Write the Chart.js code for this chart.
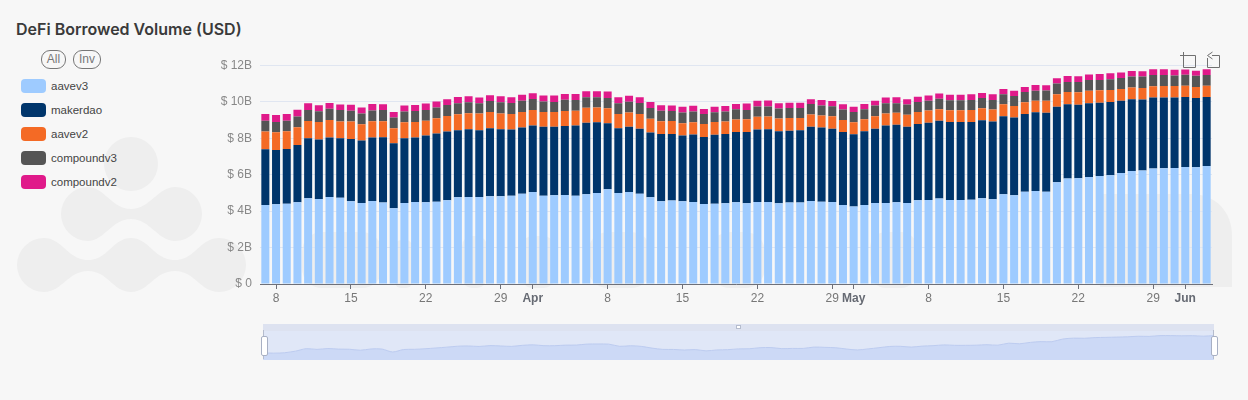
<!DOCTYPE html>
<html lang="en">

<head>
    <meta charset="UTF-8">
    <title>DeFi Borrowed Volume (USD)</title>
    <script src="https://cdn.jsdelivr.net/npm/chart.js"></script>
    <style>
        html, body { margin: 0; padding: 0; }
        body { width: 1248px; height: 400px; background: #f7f7f7; position: relative; overflow: hidden; font-family: "Liberation Sans", sans-serif; }
        h1 { position: absolute; left: 16px; top: 19px; margin: 0; font: 600 16px Inter, sans-serif; color: #3a3a3a; }
        .btn { position: absolute; top: 50px; height: 17px; line-height: 17px; border: 1px solid #777; border-radius: 9px; font-size: 12px; color: #777; text-align: center; }
        #legend { position: absolute; left: 21px; top: 79px; }
        #legend div { height: 24px; display: flex; align-items: flex-start; font-size: 11.5px; color: #444; }
        #legend i { width: 25px; height: 14px; border-radius: 4px; margin-right: 5px; }
        #legend span { line-height: 14px; }
        #watermark { position: absolute; left: 0; top: 0; }
        #mainWrap { position: absolute; left: 200px; top: 50px; width: 1020px; height: 264px; }
        #sliderBack { position: absolute; left: 263px; top: 324px; width: 951px; height: 36px; background: #e0e7f7; }
        #sliderTop { position: absolute; left: 263px; top: 324px; width: 951px; height: 7px; background: #dde2f0; }
        #sliderWrap { position: absolute; left: 263px; top: 331px; width: 951px; height: 29px; }
        canvas { display: block; }
        .handle { position: absolute; top: 336px; width: 5px; height: 18px; background: #fff; border: 1px solid #a8b0c4; border-radius: 2px; }
        .handleLine { position: absolute; top: 330px; width: 1px; height: 29px; background: #b5bccd; }
        #grip { position: absolute; left: 736px; top: 325px; width: 5px; height: 4px; background: #fff; border: 1px solid #b5bccd; box-sizing: border-box; }
    </style>
</head>

<body>
    <!-- background watermark -->
    <svg id="watermark" width="1248" height="400" fill="#eeeeee">
        <circle cx="131" cy="164" r="27"/>
        <path d="M88 187 C104 187 112 209 131 209 C150 209 158 187 175 187 A27 27 0 0 1 175 241 C158 241 150 219 131 219 C112 219 104 241 88 241 A27 27 0 0 1 88 187 Z"/>
        <path d="M44 238 C62 238 68 260 88 260 C108 260 113 238 131 238 C149 238 154 260 175 260 C195 260 200 238 219 238 A27 27 0 0 1 219 292 C200 292 195 271 175 271 C154 271 149 292 131 292 C113 292 108 271 88 271 C68 271 62 292 44 292 A27 27 0 0 1 44 238 Z"/>
        <rect x="302" y="232" width="80" height="56" rx="20"/>
        <rect x="395" y="240" width="17" height="48" rx="6"/>
        <rect x="462" y="236" width="25" height="52" rx="10"/>
        <rect x="521" y="236" width="34" height="52" rx="12"/>
        <rect x="588" y="232" width="63" height="56" rx="20"/>
        <rect x="710" y="232" width="55" height="56" rx="20"/>
        <rect x="870" y="232" width="47" height="56" rx="16"/>
        <path d="M1100 287 L1100 194 L1190 194 C1216 194 1232 212 1232 236 L1232 287 Z"/>
    </svg>

    <h1>DeFi Borrowed Volume (USD)</h1>
    <div class="btn" style="left:41px;width:23px">All</div>
    <div class="btn" style="left:73px;width:26px">Inv</div>
    <div id="legend"></div>

    <div id="mainWrap"><canvas id="mainChart" width="1020" height="264"></canvas></div>

    <!-- toolbox icons -->
    <svg style="position:absolute;left:1176px;top:50px" width="48" height="20" fill="none" stroke="#707070" stroke-width="1">
        <path d="M4 5.5 H11 M7.5 2 V17.5 H19.5 V5.5 H7.5"/>
        <path d="M31.5 17.5 H43.5 V5.5 H36 M31.5 17.5 V8 M36.5 2 L31.5 5.5 L36.5 9"/>
    </svg>

    <!-- range slider -->
    <div id="sliderBack"></div>
    <div id="sliderTop"></div>
    <div id="sliderWrap"><canvas id="sliderChart" width="951" height="29"></canvas></div>
    <div class="handleLine" style="left:263px"></div>
    <div class="handleLine" style="left:1213px"></div>
    <div class="handle" style="left:261px"></div>
    <div class="handle" style="left:1211px"></div>
    <div id="grip"></div>

    <script>
        const categories = [
            '03-07','03-08','03-09','03-10','03-11','03-12','03-13','03-14','03-15','03-16','03-17','03-18','03-19','03-20','03-21','03-22','03-23','03-24','03-25','03-26','03-27','03-28','03-29','03-30','03-31',
            '04-01','04-02','04-03','04-04','04-05','04-06','04-07','04-08','04-09','04-10','04-11','04-12','04-13','04-14','04-15','04-16','04-17','04-18','04-19','04-20','04-21','04-22','04-23','04-24','04-25','04-26','04-27','04-28','04-29','04-30',
            '05-01','05-02','05-03','05-04','05-05','05-06','05-07','05-08','05-09','05-10','05-11','05-12','05-13','05-14','05-15','05-16','05-17','05-18','05-19','05-20','05-21','05-22','05-23','05-24','05-25','05-26','05-27','05-28','05-29','05-30','05-31',
            '06-01','06-02','06-03'
        ];
        const tickDates = ['03-08','03-15','03-22','03-29','04-01','04-08','04-15','04-22','04-29','05-01','05-08','05-15','05-22','05-29','06-01'];
        const tickLabels = ['8','15','22','29','Apr','8','15','22','29','May','8','15','22','29','Jun'];
        const monthLabels = ['Apr', 'May', 'Jun'];

        // values in billions of USD
        const aavev3 = [4.34,4.38,4.41,4.49,4.71,4.67,4.78,4.73,4.54,4.45,4.56,4.47,4.16,4.45,4.51,4.49,4.52,4.60,4.76,4.78,4.78,4.82,4.82,4.84,4.95,5.05,4.84,4.87,4.89,4.85,4.93,5.00,5.20,5.00,5.05,4.95,4.76,4.54,4.58,4.54,4.51,4.40,4.41,4.43,4.49,4.43,4.51,4.51,4.43,4.47,4.47,4.56,4.52,4.51,4.34,4.25,4.34,4.45,4.45,4.49,4.45,4.60,4.62,4.69,4.62,4.62,4.63,4.71,4.65,4.93,4.87,5.07,5.11,5.07,5.59,5.79,5.81,5.88,5.93,5.97,6.10,6.21,6.23,6.34,6.36,6.37,6.43,6.41,6.48];
        const makerdao = [3.06,2.98,3.01,3.15,3.29,3.26,3.26,3.27,3.43,3.43,3.48,3.59,3.57,3.55,3.53,3.66,3.74,3.77,3.68,3.72,3.66,3.73,3.68,3.64,3.64,3.65,3.80,3.77,3.79,3.85,3.93,3.88,3.63,3.55,3.58,3.58,3.56,3.70,3.66,3.61,3.70,3.68,3.78,3.81,3.86,3.92,3.97,3.99,3.96,3.95,3.97,4.07,4.07,4.02,4.01,3.97,4.05,4.08,4.25,4.25,4.18,4.19,4.23,4.27,4.28,4.28,4.27,4.28,4.27,4.28,4.27,4.27,4.32,4.33,4.15,4.08,4.04,4.05,4.03,4.03,3.97,3.94,3.90,3.90,3.88,3.87,3.84,3.81,3.79];
        const aavev2 = [.97,.97,.97,.97,.95,.97,.97,.93,.95,.90,.90,.88,.82,.88,.86,.82,.84,.86,.88,.88,.92,.90,.86,.86,.86,.86,.81,.81,.82,.82,.82,.81,.82,.79,.79,.81,.75,.70,.71,.68,.68,.71,.71,.68,.68,.70,.70,.70,.70,.70,.68,.68,.66,.68,.66,.66,.66,.68,.66,.66,.66,.66,.68,.64,.64,.64,.66,.66,.66,.66,.64,.64,.64,.66,.68,.68,.68,.68,.68,.66,.64,.64,.64,.62,.64,.64,.62,.60,.62];
        const compoundv3 = [.60,.57,.57,.59,.60,.59,.62,.62,.59,.59,.59,.62,.59,.59,.60,.59,.59,.60,.60,.60,.57,.60,.62,.60,.62,.60,.57,.55,.62,.59,.57,.57,.57,.59,.59,.60,.60,.57,.55,.59,.59,.55,.53,.55,.57,.51,.57,.55,.55,.55,.55,.57,.55,.55,.57,.57,.55,.59,.57,.53,.57,.55,.53,.57,.55,.55,.55,.57,.53,.55,.55,.57,.55,.57,.59,.55,.57,.59,.57,.59,.60,.60,.62,.62,.60,.57,.60,.62,.59];
        const compoundv2 = [.37,.38,.38,.37,.37,.33,.31,.31,.33,.33,.35,.31,.31,.33,.33,.35,.33,.31,.35,.33,.31,.31,.33,.31,.33,.31,.33,.35,.31,.33,.33,.33,.35,.33,.33,.31,.33,.31,.31,.31,.31,.27,.31,.31,.29,.35,.31,.33,.29,.29,.29,.27,.31,.29,.29,.29,.29,.26,.31,.33,.29,.29,.29,.29,.31,.31,.31,.27,.31,.29,.29,.27,.31,.29,.29,.33,.31,.31,.33,.33,.31,.31,.29,.31,.31,.31,.29,.27,.31];

        const seriesNames = ['aavev3', 'makerdao', 'aavev2', 'compoundv3', 'compoundv2'];
        const seriesValues = [aavev3, makerdao, aavev2, compoundv3, compoundv2];
        const seriesColors = ['#9ecbff', '#00356b', '#f46a25', '#555555', '#e01a8a'];
        const totals = categories.map((c, i) => seriesValues.reduce((sum, s) => sum + s[i], 0));

        document.getElementById('legend').innerHTML = seriesNames.map((name, i) =>
            '<div><i style="background:' + seriesColors[i] + '"></i><span>' + name + '</span></div>').join('');

        function tickText(i) {
            const pos = tickDates.indexOf(categories[i]);
            return pos >= 0 ? tickLabels[pos] : null;
        }

        new Chart(document.getElementById('mainChart'), {
            type: 'bar',
            data: {
                labels: categories,
                datasets: seriesNames.map((name, i) => ({
                    label: name,
                    data: seriesValues[i],
                    backgroundColor: seriesColors[i],
                    barPercentage: 0.75,
                    categoryPercentage: 1
                }))
            },
            options: {
                responsive: false,
                animation: false,
                layout: { padding: { top: 15.5, right: 8, left: 0, bottom: 0 } },
                plugins: { legend: { display: false }, tooltip: { enabled: false } },
                scales: {
                    x: {
                        stacked: true,
                        afterFit: (scale) => { scale.height = 30; },
                        border: { color: '#6e7079' },
                        grid: { drawOnChartArea: false, tickLength: 5, tickColor: '#6e7079', offset: false },
                        ticks: {
                            autoSkip: false,
                            maxRotation: 0,
                            padding: 2,
                            color: (ctx) => monthLabels.includes(ctx.tick.label) ? '#666a73' : '#777',
                            font: (ctx) => ({
                                family: '"Liberation Sans"',
                                size: 12,
                                weight: monthLabels.includes(ctx.tick.label) ? 'bold' : 'normal'
                            }),
                            callback: (value, index) => tickText(index)
                        }
                    },
                    y: {
                        stacked: true,
                        min: 0,
                        max: 12,
                        afterFit: (scale) => { scale.width = 60; },
                        border: { display: false },
                        grid: { color: '#e0e6f1', drawTicks: false },
                        ticks: {
                            stepSize: 2,
                            padding: 8,
                            color: '#888',
                            font: { family: '"Liberation Sans"', size: 12 },
                            callback: (v) => v === 0 ? '$ 0' : '$ ' + v + 'B'
                        }
                    }
                }
            }
        });

        new Chart(document.getElementById('sliderChart'), {
            type: 'line',
            data: {
                labels: categories,
                datasets: [{
                    data: totals,
                    borderColor: '#bccbef',
                    borderWidth: 1,
                    backgroundColor: '#ccd9f6',
                    fill: 'start',
                    pointRadius: 0,
                    tension: 0.3
                }]
            },
            options: {
                responsive: false,
                animation: false,
                plugins: { legend: { display: false }, tooltip: { enabled: false } },
                scales: {
                    x: { display: false, offset: false },
                    y: { display: false, min: 8.3, max: 12.45 }
                }
            }
        });
    </script>
</body>

</html>
